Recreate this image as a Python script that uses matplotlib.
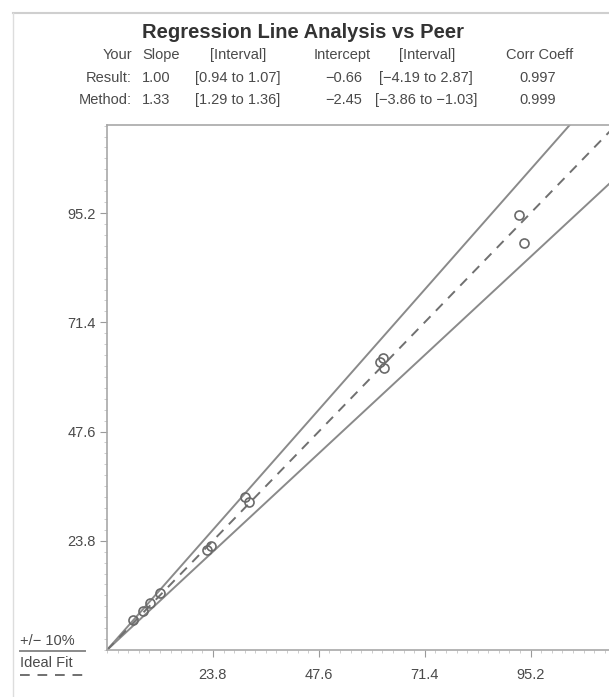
import matplotlib.pyplot as plt
from matplotlib.lines import Line2D
import numpy as np

plt.rcParams['font.family'] = ['Liberation Sans', 'DejaVu Sans']

W, H = 609, 697

# peer (x) vs your result (y)
peer_values = [92.6, 93.7, 61.3, 62.2, 62.0, 31.0, 31.9, 22.5, 23.4, 11.9, 9.7, 8.1, 5.8]
your_values = [94.8, 88.7, 62.7, 61.4, 63.6, 33.3, 32.2, 21.8, 22.7, 12.4, 10.2, 8.5, 6.5]

tick_values = [23.8, 47.6, 71.4, 95.2]
tick_labels = ['23.8', '47.6', '71.4', '95.2']
band = 0.10

title = 'Regression Line Analysis vs Peer'
header = ['Slope', '[Interval]', 'Intercept', '[Interval]', 'Corr Coeff']
row_names = ['Result:', 'Method:']
slopes = ['1.00', '1.33']
slope_int = ['[0.94 to 1.07]', '[1.29 to 1.36]']
intercepts = ['\u22120.66', '\u22122.45']
intercept_int = ['[\u22124.19 to 2.87]', '[\u22123.86 to \u22121.03]']
corr = ['0.997', '0.999']

TXT = '#4a4a4a'
LINE = '#8a8a8a'


def fx(x):
    return x / W


def fy(y):
    return 1 - y / H


fig = plt.figure(figsize=(W / 100, H / 100), dpi=100)

# axes: origin at (107, 650) px, 4.45 px/unit in x, 4.59 px/unit in y
x0, y0, y1 = 107, 650, 125
xmax = 119.0
ymax = (y0 - y1) / 4.59
ax = fig.add_axes([fx(x0), fy(y0), xmax * 4.45 / W, (y0 - y1) / H])
ax.set_xlim(0, xmax)
ax.set_ylim(0, ymax)

xs = np.array([0, 130])
ax.plot(xs, xs * (1 + band), color=LINE, lw=1.4)
ax.plot(xs, xs * (1 - band), color=LINE, lw=1.4)
ax.plot(xs, xs, color='#707070', lw=1.4, ls=(0, (5, 4)))

ax.plot(peer_values, your_values, 'o', mfc='none', mec='#6a6a6a', ms=6.5, mew=1.2)

ax.set_xticks(tick_values)
ax.set_xticklabels(tick_labels)
ax.set_yticks(tick_values)
ax.set_yticklabels(tick_labels)
ax.set_xticks(np.arange(0, xmax, 2.38), minor=True)
ax.set_yticks(np.arange(0, ymax, 2.38), minor=True)
ax.tick_params(which='major', length=5, width=0.8, color='#9a9a9a', labelsize=10.5,
               labelcolor=TXT, pad=3)
ax.tick_params(which='minor', length=2, width=0.6, color='#c4c4c4')
ax.tick_params(axis='x', pad=8)
for s in ax.spines.values():
    s.set_color('#a8a8a8')
    s.set_linewidth(1.2)

# page border from the scan
fig.add_artist(Line2D([fx(13), fx(609)], [fy(13), fy(13)], color='#cfcfcf', lw=1.5))
fig.add_artist(Line2D([fx(13), fx(13)], [fy(13), fy(697)], color='#dddddd', lw=1.0))

# header table
fig.text(fx(303), fy(32), title, ha='center', va='center', fontsize=14.5,
         fontweight='bold', color='#333333')
fs = 10.5
fig.text(fx(132), fy(55), 'Your', ha='right', va='center', fontsize=fs, color=TXT)
head_x = [(142, 'left'), (238, 'center'), (342, 'center'), (427, 'center'), (540, 'center')]
for (hx, ha), t in zip(head_x, header):
    fig.text(fx(hx), fy(55), t, ha=ha, va='center', fontsize=fs, color=TXT)
for i, ry in enumerate([78, 100]):
    fig.text(fx(132), fy(ry), row_names[i], ha='right', va='center', fontsize=fs, color=TXT)
    fig.text(fx(142), fy(ry), slopes[i], ha='left', va='center', fontsize=fs, color=TXT)
    fig.text(fx(238), fy(ry), slope_int[i], ha='center', va='center', fontsize=fs, color=TXT)
    fig.text(fx(362), fy(ry), intercepts[i], ha='right', va='center', fontsize=fs, color=TXT)
    fig.text(fx(426), fy(ry), intercept_int[i], ha='center', va='center', fontsize=fs, color=TXT)
    fig.text(fx(538), fy(ry), corr[i], ha='center', va='center', fontsize=fs, color=TXT)

# legend, bottom left
fig.text(fx(20), fy(641), '+/\u2212 10%', ha='left', va='center', fontsize=10.5, color=TXT)
fig.add_artist(Line2D([fx(20), fx(85)], [fy(651), fy(651)], color=LINE, lw=1.4))
fig.text(fx(20), fy(663), 'Ideal Fit', ha='left', va='center', fontsize=10.5, color=TXT)
fig.add_artist(Line2D([fx(20), fx(85)], [fy(675), fy(675)], color='#707070', lw=1.4,
                      ls=(0, (5, 4))))

fig.savefig('out.png', dpi=100)
